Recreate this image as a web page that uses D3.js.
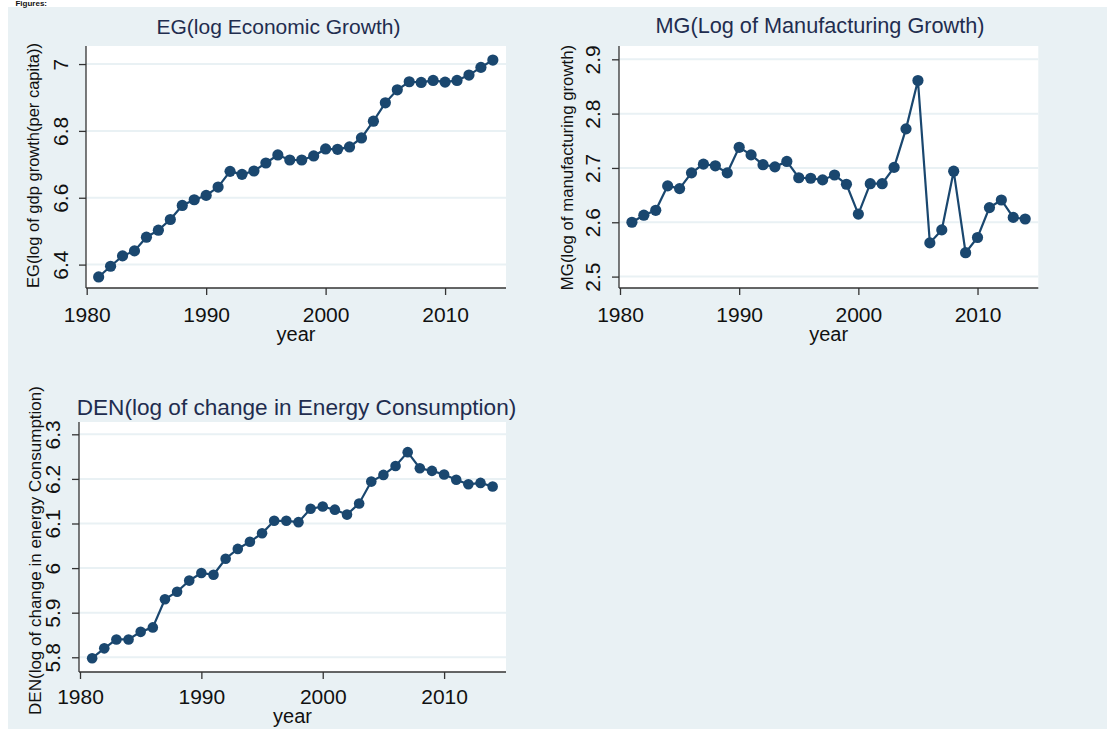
<!DOCTYPE html>
<html>
<head>
<meta charset="utf-8">
<script src="https://cdn.jsdelivr.net/npm/d3@7"></script>
<style>
  html, body { margin: 0; padding: 0; background: #ffffff; }
  svg { display: block; font-family: "Liberation Sans", Arial, sans-serif; }
</style>
</head>
<body>
<svg id="chart" width="1107" height="729"></svg>
<script>
// ---------------- data ----------------
const years = [1981, 1982, 1983, 1984, 1985, 1986, 1987, 1988, 1989, 1990,
               1991, 1992, 1993, 1994, 1995, 1996, 1997, 1998, 1999, 2000,
               2001, 2002, 2003, 2004, 2005, 2006, 2007, 2008, 2009, 2010,
               2011, 2012, 2013, 2014];

const egValues = [6.363, 6.395, 6.426, 6.441, 6.482, 6.503, 6.535, 6.577, 6.594, 6.607,
                  6.632, 6.679, 6.670, 6.680, 6.704, 6.728, 6.713, 6.713, 6.725, 6.746,
                  6.745, 6.752, 6.779, 6.829, 6.884, 6.923, 6.947, 6.945, 6.951, 6.946,
                  6.951, 6.967, 6.990, 7.012];

const mgValues = [2.600, 2.613, 2.622, 2.667, 2.662, 2.691, 2.707, 2.704, 2.691, 2.738,
                  2.724, 2.706, 2.702, 2.712, 2.682, 2.681, 2.678, 2.687, 2.670, 2.615,
                  2.671, 2.671, 2.701, 2.772, 2.861, 2.562, 2.586, 2.694, 2.544, 2.572,
                  2.627, 2.641, 2.609, 2.606];

const denValues = [5.798, 5.820, 5.840, 5.840, 5.857, 5.867, 5.930, 5.947, 5.972, 5.989,
                   5.985, 6.021, 6.043, 6.059, 6.078, 6.106, 6.106, 6.103, 6.133, 6.138,
                   6.131, 6.120, 6.145, 6.194, 6.209, 6.229, 6.260, 6.224, 6.218, 6.210,
                   6.198, 6.188, 6.191, 6.183];

const xTicks = [1980, 1990, 2000, 2010];
const egTicks = [6.4, 6.6, 6.8, 7];
const mgTicks = [2.5, 2.6, 2.7, 2.8, 2.9];
const denTicks = [5.8, 5.9, 6, 6.1, 6.2, 6.3];

const titles = ["EG(log Economic Growth)",
                "MG(Log of Manufacturing Growth)",
                "DEN(log of change in Energy Consumption)"];
const yLabels = ["EG(log of gdp growth(per capita))",
                 "MG(log of manufacturing growth)",
                 "DEN(log of change in energy Consumption)"];
const xLabel = "year";
const captionFragment = "Figures:";

// ---------------- layout / style ----------------
const BG = "#e9f1f4";
const GRID = "#e9f1f4";
const NAVY = "#1a476f";
const TITLE_COLOR = "#1f2d4f";
const TICK_SIZE = 21;

const panels = [
  { values: egValues, ticks: egTicks, title: titles[0], ylab: yLabels[0],
    x0: 86, x1: 506, y0: 46, y1: 288, xDom: [1980, 2015.1], xR0: 86.7,
    yDom: [6.330, 7.054],
    titleX: 278.5, titleY: 33.5, titleSize: 21,
    ylabX: 33.5, ylabY: 165.5, ylabSize: 16.5,
    tickLabX: 60.5, xTickY: 322, xLabY: 341, r: 5.6 },
  { values: mgValues, ticks: mgTicks, title: titles[1], ylab: yLabels[1],
    x0: 619, x1: 1038.3, y0: 46, y1: 288, xDom: [1980, 2015.1], xR0: 620,
    yDom: [2.479, 2.9245],
    titleX: 820, titleY: 33, titleSize: 21.7,
    ylabX: 567.5, ylabY: 167.5, ylabSize: 16.8,
    tickLabX: 593, xTickY: 321.7, xLabY: 341, r: 5.6 },
  { values: denValues, ticks: denTicks, title: titles[2], ylab: yLabels[2],
    x0: 79, x1: 506, y0: 422, y1: 672, xDom: [1980, 2015.1], xR0: 80,
    yDom: [5.767, 6.3276],
    titleX: 296.5, titleY: 415, titleSize: 22.6,
    ylabX: 35.5, ylabY: 550.5, ylabSize: 17.0,
    tickLabX: 52.5, xTickY: 704, xLabY: 723, r: 5.3 }
];

const svg = d3.select("#chart");

// outer graph background
svg.append("rect").attr("x", 8).attr("y", 7).attr("width", 1107 - 8).attr("height", 729 - 7)
   .attr("fill", BG);

// fragment of caption text at the very top of the image
svg.append("text").attr("x", 47).attr("y", 6).attr("text-anchor", "end")
   .attr("font-size", 8).attr("font-weight", "bold").attr("fill", "#111")
   .text(captionFragment);

panels.forEach(p => {
  const g = svg.append("g");
  const x = d3.scaleLinear().domain(p.xDom).range([p.xR0, p.x1]);
  const y = d3.scaleLinear().domain(p.yDom).range([p.y1, p.y0]);

  // plot region
  g.append("rect").attr("x", p.x0).attr("y", p.y0)
    .attr("width", p.x1 - p.x0).attr("height", p.y1 - p.y0).attr("fill", "#ffffff");

  // gridlines
  g.selectAll(".grid").data(p.ticks).enter().append("line")
    .attr("x1", p.x0).attr("x2", p.x1)
    .attr("y1", d => y(d)).attr("y2", d => y(d))
    .attr("stroke", GRID).attr("stroke-width", 2);

  // y axis
  const yAxis = d3.axisLeft(y).tickValues(p.ticks).tickSize(7).tickSizeOuter(0)
    .tickFormat(d3.format("~g"));
  const ya = g.append("g").attr("transform", `translate(${p.x0},0)`).call(yAxis);
  ya.attr("font-size", null).attr("font-family", null);
  ya.select(".domain").attr("d", `M0,${p.y0}V${p.y1}`).attr("stroke", "#333").attr("stroke-width", 1.3);
  ya.selectAll(".tick line").attr("stroke", "#333").attr("stroke-width", 1.3);
  ya.selectAll(".tick text")
    .attr("x", null).attr("dy", null)
    .attr("transform", `translate(${p.tickLabX - p.x0},0) rotate(-90)`)
    .attr("text-anchor", "middle").attr("dy", "0.35em")
    .style("font-size", TICK_SIZE + "px")
    .attr("fill", "#111");

  // x axis
  const xAxis = d3.axisBottom(x).tickValues(xTicks).tickSize(7).tickSizeOuter(0)
    .tickFormat(d3.format("d"));
  const xa = g.append("g").attr("transform", `translate(0,${p.y1})`).call(xAxis);
  xa.attr("font-size", null).attr("font-family", null);
  xa.select(".domain").attr("d", `M${p.x0},0H${p.x1}`).attr("stroke", "#333").attr("stroke-width", 1.3);
  xa.selectAll(".tick line").attr("stroke", "#333").attr("stroke-width", 1.3);
  xa.selectAll(".tick text")
    .attr("y", p.xTickY - p.y1).attr("dy", null)
    .style("font-size", TICK_SIZE + "px")
    .attr("fill", "#111");

  // series line + markers
  const pts = years.map((yr, i) => ({ yr, v: p.values[i] }));
  g.append("path").datum(pts)
    .attr("fill", "none").attr("stroke", NAVY).attr("stroke-width", 2.2)
    .attr("d", d3.line().x(d => x(d.yr)).y(d => y(d.v)));
  g.selectAll(".pt").data(pts).enter().append("circle")
    .attr("cx", d => x(d.yr)).attr("cy", d => y(d.v)).attr("r", p.r)
    .attr("fill", NAVY);

  // title
  g.append("text").attr("x", p.titleX).attr("y", p.titleY)
    .attr("text-anchor", "middle").style("font-size", p.titleSize + "px")
    .attr("fill", TITLE_COLOR).text(p.title);

  // y label
  g.append("text")
    .attr("transform", `translate(${p.ylabX},${p.ylabY}) rotate(-90)`)
    .attr("text-anchor", "middle").attr("dy", "0.33em")
    .style("font-size", p.ylabSize + "px").attr("fill", "#111").text(p.ylab);

  // x label
  g.append("text").attr("x", (p.x0 + p.x1) / 2).attr("y", p.xLabY)
    .attr("text-anchor", "middle").style("font-size", "20px")
    .attr("fill", "#111").text(xLabel);
});
</script>
</body>
</html>
